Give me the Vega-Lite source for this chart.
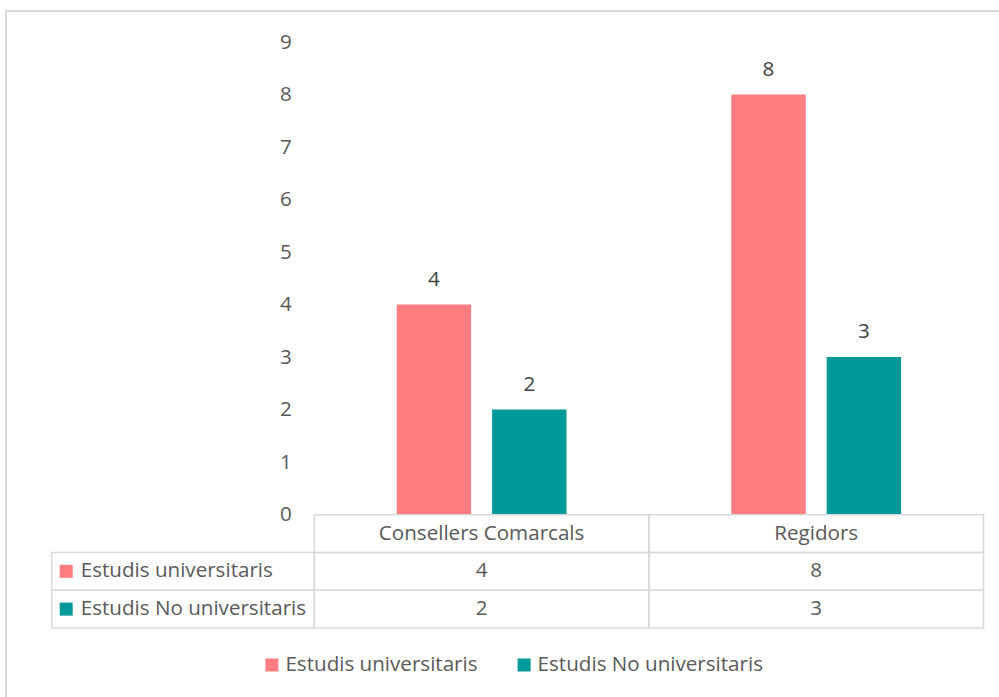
{
  "$schema": "https://vega.github.io/schema/vega-lite/v6.json",
  "padding": {"left": 6, "top": 11, "right": 0, "bottom": 0},
  "background": "white",
  "width": 1000,
  "height": 700,
  "view": {"stroke": "#d9d9d9", "strokeWidth": 2},
  "config": {"font": "Open Sans"},
  "datasets": {
    "d": [
      {"category": "Consellers Comarcals", "series": "Estudis universitaris", "value": 4},
      {"category": "Consellers Comarcals", "series": "Estudis No universitaris", "value": 2},
      {"category": "Regidors", "series": "Estudis universitaris", "value": 8},
      {"category": "Regidors", "series": "Estudis No universitaris", "value": 3}
    ]
  },
  "resolve": {"scale": {"x": "independent", "y": "independent"}, "axis": {"x": "independent", "y": "independent"}},
  "layer": [
    {
      "data": {"name": "d"},
      "encoding": {
        "x": {"field": "category", "type": "nominal", "scale": {"domain": ["Consellers Comarcals", "Regidors"], "range": [308.3, 977.5], "paddingInner": 0, "paddingOuter": 0}, "axis": null},
        "xOffset": {"field": "series", "type": "nominal", "scale": {"domain": ["Estudis universitaris", "Estudis No universitaris"], "paddingInner": 0.22, "paddingOuter": 0.864}},
        "y": {"field": "value", "type": "quantitative", "scale": {"domain": [0, 9], "range": [503.6, 31.1], "nice": false},
          "axis": {"orient": "left", "offset": -308.3, "values": [0, 1, 2, 3, 4, 5, 6, 7, 8, 9], "grid": false, "domain": false, "ticks": false, "tickSize": 0, "labelPadding": 23, "labelFontSize": 20.6, "labelColor": "#595959", "title": null}}
      },
      "layer": [
        {
          "mark": {"type": "bar"},
          "encoding": {"color": {"field": "series", "type": "nominal", "scale": {"domain": ["Estudis universitaris", "Estudis No universitaris"], "range": ["#FF7C80", "#009999"]}, "legend": null}}
        },
        {
          "mark": {"type": "text", "baseline": "alphabetic", "dy": -19, "fontSize": 20.6, "color": "#404040"},
          "encoding": {"text": {"field": "value", "type": "quantitative"}}
        }
      ]
    },
    {
      "data": {"name": "d"},
      "encoding": {
        "x": {"field": "category", "type": "nominal", "scale": {"domain": ["Consellers Comarcals", "Regidors"], "range": [308.3, 977.5], "paddingInner": 0, "paddingOuter": 0}, "axis": null}
      },
      "layer": [
        {
          "transform": [{"aggregate": [{"op": "count", "as": "n"}], "groupby": ["category"]}],
          "encoding": {
            "y": {"datum": "hdr", "type": "nominal", "scale": {"domain": ["hdr", "Estudis universitaris", "Estudis No universitaris"], "range": [503.7, 617], "paddingInner": 0, "paddingOuter": 0}, "axis": null}
          },
          "layer": [
            {"mark": {"type": "rect", "fill": "transparent", "stroke": "#d9d9d9", "strokeWidth": 1.5}},
            {"mark": {"type": "text", "fontSize": 20.6, "color": "#595959"}, "encoding": {"text": {"field": "category", "type": "nominal"}}}
          ]
        },
        {
          "encoding": {
            "y": {"field": "series", "type": "nominal", "scale": {"domain": ["hdr", "Estudis universitaris", "Estudis No universitaris"], "range": [503.7, 617], "paddingInner": 0, "paddingOuter": 0}, "axis": null}
          },
          "layer": [
            {"mark": {"type": "rect", "fill": "transparent", "stroke": "#d9d9d9", "strokeWidth": 1.5}},
            {"mark": {"type": "text", "fontSize": 20.6, "color": "#595959"}, "encoding": {"text": {"field": "value", "type": "quantitative"}}}
          ]
        }
      ]
    },
    {
      "data": {"name": "d"},
      "transform": [{"aggregate": [{"op": "count", "as": "n"}], "groupby": ["series"]}],
      "encoding": {
        "x": {"datum": "lbl", "type": "nominal", "scale": {"domain": ["lbl"], "range": [45.7, 308.3], "paddingInner": 0, "paddingOuter": 0}, "axis": null},
        "y": {"field": "series", "type": "nominal", "scale": {"domain": ["hdr", "Estudis universitaris", "Estudis No universitaris"], "range": [503.7, 617], "paddingInner": 0, "paddingOuter": 0}, "axis": null}
      },
      "layer": [
        {"mark": {"type": "rect", "fill": "transparent", "stroke": "#d9d9d9", "strokeWidth": 1.5}},
        {
          "mark": {"type": "point", "shape": "square", "filled": true, "size": 169, "opacity": 1, "xOffset": 14.5},
          "encoding": {
            "x": {"datum": "lbl", "type": "nominal", "bandPosition": 0},
            "color": {"field": "series", "type": "nominal", "scale": {"domain": ["Estudis universitaris", "Estudis No universitaris"], "range": ["#FF7C80", "#009999"]}, "legend": null}
          }
        },
        {
          "mark": {"type": "text", "align": "left", "dx": 29, "fontSize": 20.6, "color": "#595959"},
          "encoding": {
            "x": {"datum": "lbl", "type": "nominal", "bandPosition": 0},
            "text": {"field": "series", "type": "nominal"}
          }
        }
      ]
    },
    {
      "data": {"name": "d"},
      "transform": [{"aggregate": [{"op": "count", "as": "n"}], "groupby": ["series"]}],
      "encoding": {
        "x": {"field": "series", "type": "nominal", "scale": {"domain": ["Estudis universitaris", "Estudis No universitaris"], "range": [259.4, 763.8], "paddingInner": 0, "paddingOuter": 0}, "axis": null},
        "y": {"datum": "lg", "type": "nominal", "scale": {"domain": ["lg"], "range": [616, 692], "paddingInner": 0, "paddingOuter": 0}, "axis": null}
      },
      "layer": [
        {
          "mark": {"type": "point", "shape": "square", "filled": true, "size": 169, "opacity": 1, "xOffset": -119.6},
          "encoding": {
            "color": {"field": "series", "type": "nominal", "scale": {"domain": ["Estudis universitaris", "Estudis No universitaris"], "range": ["#FF7C80", "#009999"]}, "legend": null}
          }
        },
        {
          "mark": {"type": "text", "align": "left", "dx": -106.1, "fontSize": 20.6, "color": "#595959"},
          "encoding": {
            "text": {"field": "series", "type": "nominal"}
          }
        }
      ]
    }
  ]
}
